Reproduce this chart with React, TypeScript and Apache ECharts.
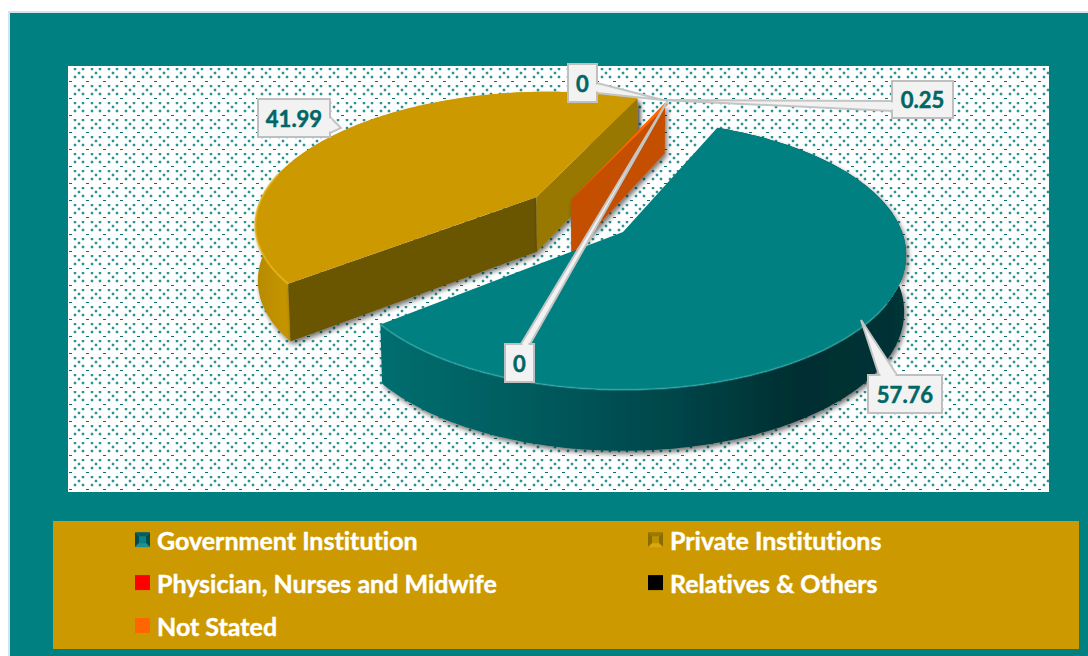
import React, { useEffect, useRef } from "react";
import * as echarts from "echarts";

const categories = [
  "Government Institution",
  "Private Institutions",
  "Physician, Nurses and Midwife",
  "Relatives & Others",
  "Not Stated",
];
const values = [57.76, 41.99, 0, 0, 0.25];
const valueLabels = ["57.76", "41.99", "0", "0", "0.25"];
const legendLeft = [categories[0], categories[2], categories[4]];
const legendRight = [categories[1], categories[3]];
const baseColors = ["#008080", "#CC9900", "#FF0000", "#000000", "#FF6600"];

// Projection of the pie plane: a circle seen in perspective
const X0 = 623, Y0 = 232, A = 279, B = 131, K = 0.17;
const START_DEG = 23;
const explode: number[][] = [[0, 0], [-0.325, -0.279], [0, 0], [0, 0], [-0.195, -0.255]];
const radius = [1, 1.03, 1, 1, 1];
const seriesZ = [4, 2, 5, 6, 3];

const project = (u: number, v: number): number[] => {
  const w = 1 - K * v;
  return [X0 + (A * u) / w, Y0 + (B * v) / w];
};
const projectLow = (u: number, v: number): number[] => {
  const p = project(u, v);
  return [X0 + (p[0] - X0) * 0.993, p[1] + 56 + 5 * v];
};

// Label boxes and callout wedges (annotation layout, not data)
const labelBoxes = [
  { x: 868, y: 375, w: 74, h: 38, wedge: [[879, 375], [861, 320], [897, 375]] },
  { x: 258, y: 99, w: 72, h: 38, wedge: [[330, 117], [341, 128], [330, 133]] },
  { x: 505, y: 344, w: 29, h: 38, wedge: [[521, 344], [668, 100], [530, 344]] },
  { x: 568, y: 64, w: 29, h: 38, wedge: [[597, 83], [663, 100], [597, 93]] },
  { x: 892, y: 81, w: 61, h: 37, wedge: [[892, 101], [660, 100], [892, 111]] },
];

const labelFont = 'bold 22px Lato, "Open Sans", sans-serif';

function dotPattern(): HTMLCanvasElement {
  const c = document.createElement("canvas");
  c.width = 17;
  c.height = 17;
  const ctx = c.getContext("2d")!;
  ctx.fillStyle = "#ffffff";
  ctx.fillRect(0, 0, 17, 17);
  const oy = 15; // plot area top (66) modulo the tile height
  const dot = (x: number, y: number) => {
    const yy = (y + oy) % 17;
    ctx.fillStyle = "rgba(0,128,128,0.22)";
    ctx.fillRect(x - 1, yy - 2, 2, 4);
    ctx.fillRect(x - 2, yy - 1, 4, 2);
    ctx.fillStyle = "#2a9494";
    ctx.fillRect(x - 1, yy - 1, 2, 2);
  };
  dot(7, 3);
  dot(15, 3);
  dot(11, 7);
  dot(7, 11);
  dot(15, 11);
  ctx.fillStyle = "#0a6e6e";
  ctx.fillRect(1, (15 + oy) % 17, 3, 1);
  return c;
}

function bevelIcon(left: string, top: string, right: string, bottom: string, face: string): string {
  const c = document.createElement("canvas");
  c.width = 15;
  c.height = 15;
  const ctx = c.getContext("2d")!;
  const tri = (pts: number[][], col: string) => {
    ctx.fillStyle = col;
    ctx.beginPath();
    pts.forEach((p, i) => (i ? ctx.lineTo(p[0], p[1]) : ctx.moveTo(p[0], p[1])));
    ctx.closePath();
    ctx.fill();
  };
  tri([[0, 0], [15, 0], [11, 4], [4, 4]], top);
  tri([[0, 0], [4, 4], [4, 11], [0, 15]], left);
  tri([[15, 0], [15, 15], [11, 11], [11, 4]], right);
  tri([[0, 15], [15, 15], [11, 11], [4, 11]], bottom);
  ctx.fillStyle = face;
  ctx.fillRect(4, 4, 7, 7);
  return "image://" + c.toDataURL();
}

function arcPoints(a0: number, a1: number, off: number[], r: number, fn: (u: number, v: number) => number[]): number[][] {
  const pts: number[][] = [];
  const n = Math.max(2, Math.ceil(Math.abs(a1 - a0)));
  for (let i = 0; i <= n; i++) {
    const a = ((a0 + ((a1 - a0) * i) / n) * Math.PI) / 180;
    pts.push(fn(r * Math.sin(a) + off[0], -r * Math.cos(a) + off[1]));
  }
  return pts;
}

function startAngle(index: number): number {
  let sum = 0;
  for (let i = 0; i < index; i++) sum += values[i];
  const total = values.reduce((a, b) => a + b, 0);
  return START_DEG + (sum / total) * 360;
}

function sliceShapes(index: number, value: number): any[] {
  if (value <= 0) return [];
  const total = values.reduce((a, b) => a + b, 0);
  const a0 = startAngle(index);
  const a1 = a0 + (value / total) * 360;
  const off = explode[index];
  const r = radius[index];
  const apex = project(off[0], off[1]);
  const apexLow = projectLow(off[0], off[1]);
  const top = arcPoints(a0, a1, off, r, project);
  const low = arcPoints(a0, a1, off, r, projectLow);
  const poly = (points: number[][], style: any) => ({ type: "polygon", silent: true, shape: { points }, style });
  const shadow = { shadowBlur: 5, shadowColor: "rgba(0,0,0,0.55)", shadowOffsetX: 2, shadowOffsetY: 3 };
  const wall = poly([...top, ...low.slice().reverse()], {});
  const shapes: any[] = [];
  if (index === 0) {
    wall.style = {
      ...shadow,
      fill: new echarts.graphic.LinearGradient(0, 0, 1, 0, [
        { offset: 0, color: "#016E6F" },
        { offset: 0.3, color: "#015A5C" },
        { offset: 0.55, color: "#02464A" },
        { offset: 0.8, color: "#012E30" },
        { offset: 1, color: "#013437" },
      ]),
    };
    shapes.push(wall);
    shapes.push(poly([apex, ...top], { fill: "#008080" }));
    shapes.push({
      type: "polyline",
      silent: true,
      shape: { points: arcPoints(120, a1, off, r, project) },
      style: { fill: "none", stroke: "rgba(70,190,190,0.4)", lineWidth: 2 },
    });
  } else if (index === 1) {
    wall.style = {
      ...shadow,
      fill: new echarts.graphic.LinearGradient(258, 0, 300, 0, [
        { offset: 0, color: "#B88B00" },
        { offset: 1, color: "#CC9A00" },
      ], true),
    };
    shapes.push(wall);
    shapes.push(poly([apex, top[0], low[0], apexLow], { ...shadow, fill: "#6B5500" }));
    shapes.push(poly([apex, top[top.length - 1], low[low.length - 1], apexLow], { ...shadow, fill: "#987800" }));
    shapes.push(poly([apex, ...top], { fill: "#CC9900" }));
    shapes.push({
      type: "polyline",
      silent: true,
      shape: { points: arcPoints(a0, a0 + 50, off, r, project) },
      style: { fill: "none", stroke: "rgba(235,185,30,0.7)", lineWidth: 2 },
    });
  } else {
    shapes.push(poly([apex, top[0], low[0], apexLow], { ...shadow, fill: "#C55000" }));
    shapes.push(poly([apex, ...top], { fill: baseColors[index] }));
  }
  return shapes;
}

function labelShapes(index: number): any[] {
  const b = labelBoxes[index];
  const w = b.wedge;
  const sx = 1.5 * Math.sign(w[2][0] - w[0][0]);
  const sy = 1.5 * Math.sign(w[2][1] - w[0][1]);
  return [
    {
      type: "polygon",
      silent: true,
      shape: { points: w },
      style: { fill: "#F2F2F2", stroke: "#C4C4C4", lineWidth: 2, lineJoin: "miter" },
    },
    {
      type: "rect",
      silent: true,
      shape: { x: b.x, y: b.y, width: b.w, height: b.h },
      style: { fill: "#F2F2F2", stroke: "#BFBFBF", lineWidth: 2 },
    },
    {
      type: "line",
      silent: true,
      shape: { x1: w[0][0] + sx, y1: w[0][1] + sy, x2: w[2][0] - sx, y2: w[2][1] - sy },
      style: { stroke: "#F2F2F2", lineWidth: 3 },
    },
    {
      type: "text",
      silent: true,
      style: {
        text: valueLabels[index],
        x: b.x + b.w / 2,
        y: b.y + b.h / 2,
        align: "center",
        verticalAlign: "middle",
        fill: "#006666",
        stroke: "#006666",
        lineWidth: 0.5,
        font: labelFont,
      },
    },
  ];
}

export default function App() {
  const ref = useRef<HTMLDivElement>(null);
  useEffect(() => {
    const chart = echarts.init(ref.current!, undefined, { renderer: "svg" });
    const legendBase = {
      orient: "vertical",
      padding: 0,
      itemWidth: 15,
      itemHeight: 15,
      itemGap: 17.5,
      selectedMode: false,
      textStyle: {
        color: "#ffffff",
        fontFamily: 'Lato, "Open Sans", sans-serif',
        fontWeight: "bold",
        fontSize: 25,
        textBorderColor: "#ffffff",
        textBorderWidth: 0.4,
        padding: [0, 0, 0, 2],
      },
    };
    const iconFor = (name: string) => {
      if (name === categories[0]) return { name, icon: bevelIcon("#014C4E", "#015F61", "#014C4E", "#1F8F90", "#0A8284") };
      if (name === categories[1]) return { name, icon: bevelIcon("#8A6C00", "#9A7800", "#8A6C00", "#D8A810", "#BE9000") };
      return { name, icon: "rect" };
    };
    chart.setOption({
      animation: false,
      backgroundColor: "#ffffff",
      graphic: {
        elements: [
          { type: "rect", silent: true, z: 0, shape: { x: 8, y: 11, width: 1080, height: 645 }, style: { fill: "#D5E3EE" } },
          { type: "rect", silent: true, z: 1, shape: { x: 10, y: 13, width: 1078, height: 643 }, style: { fill: "#008080" } },
          {
            type: "rect",
            silent: true,
            z: 2,
            shape: { x: 68, y: 66, width: 981, height: 426 },
            style: { fill: { image: dotPattern(), repeat: "repeat" } as any },
          },
          { type: "rect", silent: true, z: 2, shape: { x: 53, y: 521, width: 1026, height: 128 }, style: { fill: "#CC9900" } },
        ],
      },
      legend: [
        { ...legendBase, left: 135, top: 527, data: legendLeft.map(iconFor) },
        { ...legendBase, left: 648, top: 527, data: legendRight.map(iconFor) },
      ],
      series: categories.map((name, index) => ({
        type: "custom",
        name,
        coordinateSystem: "none",
        z: 10 + seriesZ[index],
        silent: true,
        itemStyle: { color: baseColors[index] },
        data: [[values[index]]],
        renderItem: (_p: any, api: any) => ({
          type: "group",
          children: [...sliceShapes(index, api.value(0)), ...labelShapes(index)],
        }),
      })),
    } as any);
    return () => chart.dispose();
  }, []);
  return (
    <div
      ref={ref}
      style={{ position: "fixed", left: 0, top: 0, width: 1088, height: 656, fontVariantLigatures: "none" }}
    />
  );
}
